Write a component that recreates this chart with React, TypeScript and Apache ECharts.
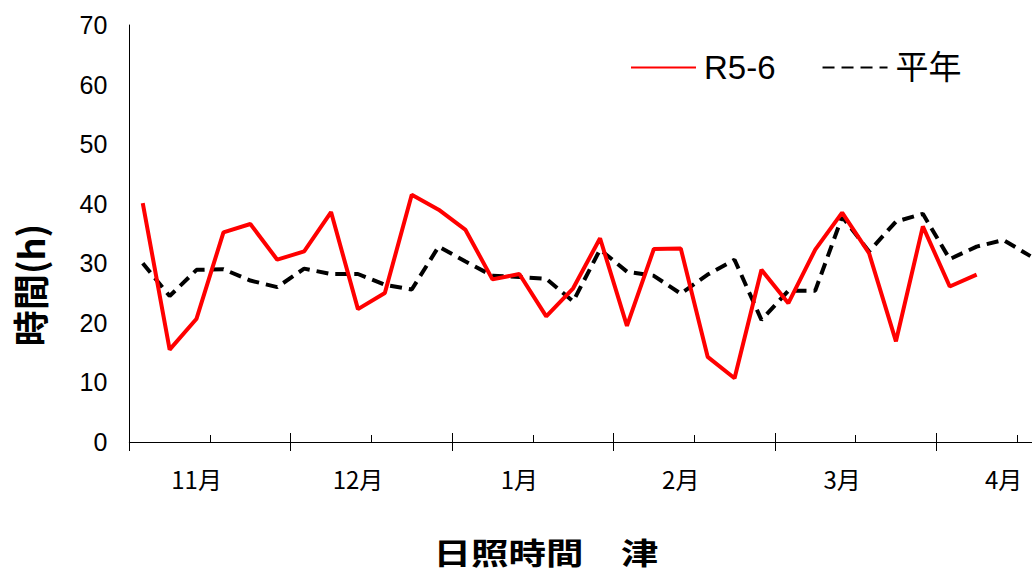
import React, { useEffect, useRef } from "react";
import * as echarts from "echarts";

const months = ["11月", "12月", "1月", "2月", "3月", "4月"];
const categories = months.flatMap((m) => [1, 2, 3, 4, 5, 6].map((k) => `${m}第${k}半旬`));

const r56 = [
  40.1, 15.5, 20.7, 35.2, 36.6, 30.6,
  32.0, 38.6, 22.3, 25.0, 41.5, 39.0,
  35.6, 27.3, 28.2, 21.1, 25.8, 34.2,
  19.5, 32.4, 32.5, 14.3, 10.7, 28.9,
  23.3, 32.3, 38.5, 31.7, 16.9, 36.2,
  26.1, 28.1,
];

const normal = [
  30.0, 24.5, 28.9, 29.0, 27.1, 26.0,
  29.1, 28.2, 28.2, 26.4, 25.6, 32.8,
  30.3, 27.9, 27.7, 27.4, 23.6, 32.3,
  28.6, 27.9, 24.9, 28.1, 30.6, 20.5,
  25.4, 25.4, 37.8, 32.0, 37.0, 38.3,
  30.7, 32.8, 33.9, 31.2,
];

const yTicks = { min: 0, max: 70, interval: 10 };

export default function App() {
  const ref = useRef<HTMLDivElement>(null);
  useEffect(() => {
    if (!ref.current) return;
    const chart = echarts.init(ref.current, null, { renderer: "svg" });
    const catW = 26.9;
    const option: any = {
      animation: false,
      backgroundColor: "#fff",
      grid: {
        left: 129.3,
        top: 25,
        width: catW * categories.length,
        height: 417,
        outerBoundsMode: "none",
        containLabel: false,
      },
      legend: {
        left: 625,
        top: 46,
        itemWidth: 65,
        itemHeight: 14,
        itemGap: 46,
        itemStyle: { opacity: 0 },
        textStyle: { fontSize: 33, color: "#000", fontFamily: "Liberation Sans, Noto Sans CJK JP", padding: [0, 0, 0, 3] },
        data: ["R5-6", "平年"],
      },
      xAxis: [
        {
          type: "category",
          data: categories,
          position: "bottom",
          boundaryGap: true,
          axisLine: { show: true, lineStyle: { color: "#000", width: 1 } },
          axisTick: { show: true, inside: false, length: 9, interval: (i: number) => i % 6 === 0, lineStyle: { color: "#000" } },
          axisLabel: {
            interval: (i: number) => i % 6 === 2,
            formatter: (v: string) => v.split("第")[0],
            fontSize: 24,
            color: "#000",
            fontFamily: "Noto Sans CJK JP",
            margin: 24,
          },
          splitLine: { show: false },
        },
        {
          type: "category",
          data: categories,
          position: "bottom",
          boundaryGap: true,
          axisLine: { show: false },
          axisTick: { show: true, inside: true, length: 9, interval: (i: number) => i % 6 === 0, lineStyle: { color: "#000" } },
          axisLabel: { show: false },
          splitLine: { show: false },
        },
        {
          type: "category",
          data: categories,
          position: "bottom",
          boundaryGap: true,
          axisLine: { show: false },
          axisTick: { show: true, inside: true, length: 7, interval: (i: number) => i % 6 === 3, lineStyle: { color: "#000" } },
          axisLabel: { show: false },
          splitLine: { show: false },
        },
      ],
      yAxis: {
        type: "value",
        min: yTicks.min,
        max: yTicks.max,
        interval: yTicks.interval,
        axisLine: { show: true, lineStyle: { color: "#000", width: 1 } },
        axisTick: { show: false },
        splitLine: { show: false },
        axisLabel: { fontSize: 25, color: "#000", fontFamily: "Liberation Sans", margin: 22 },
      },
      graphic: [
        {
          type: "text",
          x: 29,
          y: 285,
          rotation: Math.PI / 2,
          style: {
            text: "時間(h)",
            fontSize: 36,
            fontWeight: "bold",
            fontFamily: "Noto Sans CJK JP",
            fill: "#000",
            align: "center",
            verticalAlign: "middle",
          },
        },
        {
          type: "text",
          x: 546,
          y: 551,
          scaleX: 1.25,
          style: {
            text: "日照時間　津",
            fontSize: 30,
            fontWeight: "bold",
            fontFamily: "Noto Sans CJK JP",
            fill: "#000",
            align: "center",
            verticalAlign: "middle",
          },
        },
      ],
      series: [
        {
          name: "R5-6",
          type: "line",
          data: r56,
          symbol: "none",
          lineStyle: { color: "#ff0000", width: 4 },
          itemStyle: { color: "#ff0000" },
          z: 3,
        },
        {
          name: "平年",
          type: "line",
          data: normal,
          symbol: "none",
          lineStyle: { color: "#000", width: 4, type: [12, 7] },
          itemStyle: { color: "#000" },
          z: 2,
        },
      ],
    };
    chart.setOption(option);
    return () => chart.dispose();
  }, []);
  return (
    <div
      ref={ref}
      style={{ position: "absolute", left: 0, top: 0, width: 1032, height: 574, overflow: "hidden" }}
    />
  );
}
